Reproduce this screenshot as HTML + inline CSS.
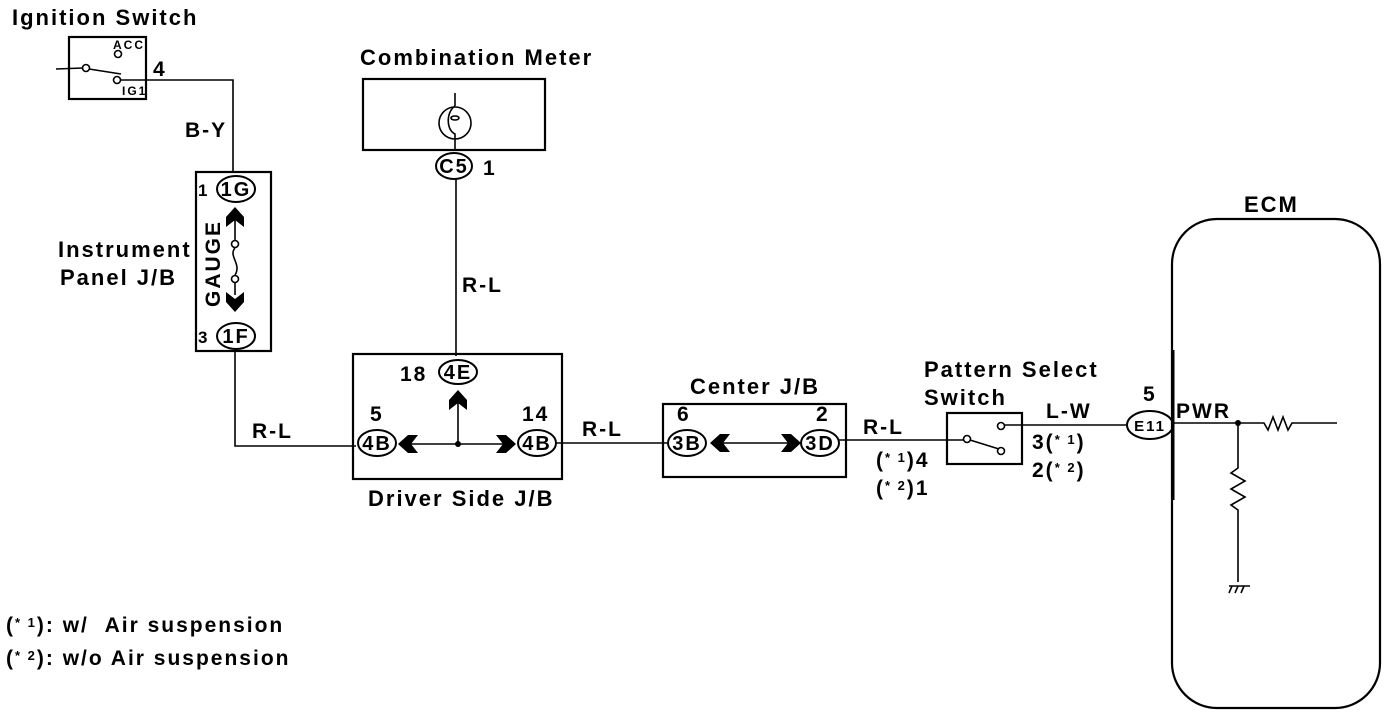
<!DOCTYPE html>
<html><head><meta charset="utf-8"><style>
html,body{margin:0;padding:0;background:#fff;}
svg{display:block;}
text{font-family:"Liberation Sans",sans-serif;fill:#000;font-weight:bold;letter-spacing:2px;}
</style></head><body>
<svg width="1392" height="718" viewBox="0 0 1392 718" xmlns="http://www.w3.org/2000/svg">
<defs>
<polygon id="chU" points="0,-10 9,0 9,10 0,3 -9,10 -9,0" fill="#000"/>
<polygon id="chL" points="-10,0 0,-9 10,-9 3,0 10,9 0,9" fill="#000"/>
<polygon id="chR" points="10,0 0,-9 -10,-9 -3,0 -10,9 0,9" fill="#000"/>
<polygon id="chD" points="0,10 9,0 9,-10 0,-3 -9,-10 -9,0" fill="#000"/>
</defs>
<g stroke="#000" fill="none" stroke-width="1.6">
<rect x="69" y="37" width="77" height="62" stroke-width="2.2"/>
<line x1="56" y1="69" x2="83" y2="68"/>
<circle cx="86" cy="68" r="3.5"/>
<line x1="89" y1="69" x2="121" y2="74"/>
<circle cx="118" cy="54" r="3.5"/>
<circle cx="117" cy="80" r="3.5"/>
<polyline points="121,80 233,80 233,173"/>
<rect x="196" y="172" width="75" height="179" stroke-width="2.2"/>
<ellipse cx="236" cy="189" rx="19" ry="13" stroke-width="2"/>
<ellipse cx="236" cy="336" rx="19" ry="13" stroke-width="2"/>
<line x1="235" y1="220" x2="235" y2="240"/>
<circle cx="235" cy="244" r="3.5"/>
<path d="M235,248 C228,256 242,264 235,275"/>
<circle cx="235" cy="279" r="3.5"/>
<line x1="235" y1="283" x2="235" y2="295"/>
<polyline points="235,349 235,446 356,446"/>
<rect x="363" y="79" width="182" height="71" stroke-width="2.2"/>
<circle cx="455" cy="123" r="16"/>
<line x1="455" y1="93" x2="455" y2="106"/>
<path d="M455,106 C446,112 446,130 455,134 L455,150"/>
<ellipse cx="455" cy="118" rx="4" ry="2"/>
<ellipse cx="454" cy="166" rx="18" ry="13" stroke-width="2"/>
<line x1="456" y1="179" x2="456" y2="356"/>
<rect x="353" y="354" width="209" height="125" stroke-width="2.2"/>
<ellipse cx="458" cy="372" rx="19" ry="12" stroke-width="2"/>
<ellipse cx="377" cy="443" rx="19" ry="13" stroke-width="2"/>
<ellipse cx="537" cy="443" rx="19" ry="13" stroke-width="2"/>
<line x1="458" y1="400" x2="458" y2="444"/>
<line x1="410" y1="444" x2="508" y2="444"/>
<line x1="556" y1="443" x2="667" y2="443"/>
<rect x="663" y="404" width="183" height="73" stroke-width="2.2"/>
<ellipse cx="687" cy="443" rx="19" ry="13" stroke-width="2"/>
<ellipse cx="820" cy="443" rx="19" ry="13" stroke-width="2"/>
<line x1="722" y1="443" x2="795" y2="443"/>
<line x1="839" y1="440" x2="964" y2="440"/>
<rect x="947" y="413" width="75" height="51" stroke-width="2.2"/>
<circle cx="967" cy="439" r="3.5"/>
<line x1="970" y1="440" x2="999" y2="449"/>
<circle cx="1001" cy="451" r="3.5"/>
<circle cx="1001" cy="426" r="3.5"/>
<line x1="1005" y1="425" x2="1127" y2="425"/>
<ellipse cx="1150" cy="425" rx="23" ry="14" stroke-width="2"/>
<rect x="1172" y="219" width="208" height="489" rx="45" ry="45" stroke-width="2.2"/>
<line x1="1173" y1="423" x2="1238" y2="423"/>
<polyline points="1238,423 1264,423 1268,430 1273,417 1278,430 1283,417 1288,430 1292,423 1337,423"/>
<polyline points="1238,423 1238,468 1231,473 1245,481 1231,489 1245,497 1231,505 1238,510 1238,582"/>
<line x1="1229" y1="586" x2="1250" y2="586"/>
<line x1="1232" y1="586" x2="1229" y2="593"/>
<line x1="1238" y1="586" x2="1235" y2="593"/>
<line x1="1244" y1="586" x2="1241" y2="593"/>
</g>
<line x1="1173" y1="350" x2="1173" y2="500" stroke="#000" stroke-width="3"/>
<circle cx="1238" cy="423" r="3" fill="#000"/>
<circle cx="458" cy="444" r="3" fill="#000"/>
<use href="#chU" x="235" y="217"/>
<use href="#chD" x="235" y="302"/>
<use href="#chU" x="458" y="400"/>
<use href="#chL" x="408" y="444"/>
<use href="#chR" x="506" y="444"/>
<use href="#chL" x="720" y="443"/>
<use href="#chR" x="791" y="443"/>

<g font-size="22">
<text x="12" y="25" letter-spacing="1.6">Ignition Switch</text>
<text x="360" y="65" letter-spacing="1.6">Combination Meter</text>
<text x="1244" y="212">ECM</text>
<text x="58" y="257">Instrument</text>
<text x="60" y="285">Panel J/B</text>
<text x="368" y="506">Driver Side J/B</text>
<text x="690" y="394">Center J/B</text>
<text x="924" y="377" letter-spacing="1.2">Pattern Select</text>
<text x="924" y="405">Switch</text>
</g>
<g font-size="21">
<text x="153" y="76">4</text>
<text x="185" y="137">B-Y</text>
<text x="252" y="438">R-L</text>
<text x="462" y="292">R-L</text>
<text x="582" y="436">R-L</text>
<text x="863" y="434">R-L</text>
<text x="1046" y="418">L-W</text>
<text x="1143" y="401">5</text>
<text x="1176" y="418" letter-spacing="0">PWR</text>
<text x="483" y="175">1</text>
<text x="400" y="381">18</text>
<text x="370" y="421">5</text>
<text x="522" y="421">14</text>
<text x="677" y="421">6</text>
<text x="816" y="421">2</text>
<text x="198" y="196" font-size="17">1</text>
<text x="198" y="343" font-size="17">3</text>
</g>
<g font-size="20" text-anchor="middle" letter-spacing="0" font-weight="normal">
<text x="236" y="196">1G</text>
<text x="236" y="343">1F</text>
<text x="458" y="379">4E</text>
<text x="377" y="450">4B</text>
<text x="537" y="450">4B</text>
<text x="687" y="450">3B</text>
<text x="820" y="450">3D</text>
<text x="454" y="173">C5</text>
<text x="1150" y="431" font-size="15">E11</text>
</g>
<g font-size="21">
<text x="876" y="467">(<tspan font-size="13" dy="-5">*&#160;1</tspan><tspan dy="5">)4</tspan></text>
<text x="876" y="495">(<tspan font-size="13" dy="-5">*&#160;2</tspan><tspan dy="5">)1</tspan></text>
<text x="1032" y="449">3(<tspan font-size="13" dy="-5">*&#160;1</tspan><tspan dy="5">)</tspan></text>
<text x="1032" y="477">2(<tspan font-size="13" dy="-5">*&#160;2</tspan><tspan dy="5">)</tspan></text>
<text x="6" y="632">(<tspan font-size="13" dy="-5">*&#160;1</tspan><tspan dy="5">): w/&#160;&#160;Air suspension</tspan></text>
<text x="6" y="665">(<tspan font-size="13" dy="-5">*&#160;2</tspan><tspan dy="5">): w/o Air suspension</tspan></text>
</g>
<text x="113" y="49" font-size="12" font-weight="normal" letter-spacing="0">ACC</text>
<text x="122" y="95" font-size="12" font-weight="normal" letter-spacing="0">IG1</text>
<text transform="translate(220,307) rotate(-90)" font-size="21">GAUGE</text>
</svg>
</body></html>
